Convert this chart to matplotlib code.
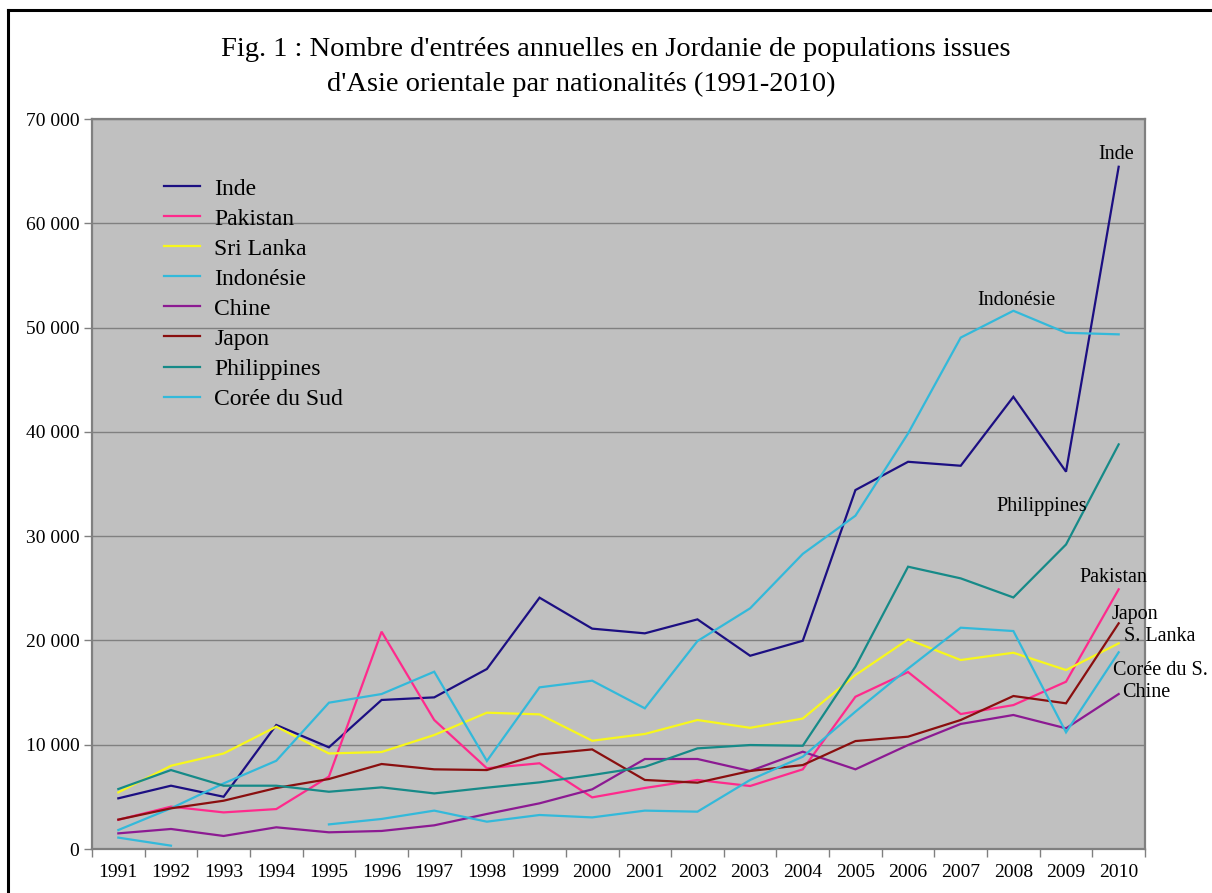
import numpy as np
import matplotlib
matplotlib.use("Agg")
import matplotlib.pyplot as plt
from matplotlib.ticker import FuncFormatter, FixedLocator
from matplotlib.lines import Line2D

years = [str(y) for y in range(1991, 2011)]

inde = [4860, 6070, 5010, 11890, 9750, 14290, 14540, 17260, 24100, 21130,
        20680, 22020, 18530, 19970, 34420, 37130, 36750, 43360, 36180, 65420]
pakistan = [2800, 4060, 3510, 3830, 6940, 20840, 12370, 7740, 8220, 4950,
            5850, 6620, 6040, 7640, 14600, 16970, 12940, 13800, 16040, 24900]
sri_lanka = [5430, 7980, 9160, 11730, 9160, 9300, 10930, 13070, 12910, 10380,
             11030, 12370, 11620, 12510, 16680, 20100, 18120, 18820, 17160, 19720]
indonesie = [1820, 3900, 6290, 8460, 14030, 14860, 17000, 8440, 15500, 16140,
             13490, 19940, 23080, 28300, 31960, 39850, 49040, 51610, 49500, 49350]
chine = [1500, 1920, 1250, 2080, 1600, 1730, 2270, 3360, 4380, 5720,
         8630, 8630, 7480, 9330, 7640, 9970, 11990, 12850, 11570, 14860]
japon = [2820, 3900, 4630, 5850, 6710, 8150, 7640, 7570, 9070, 9550,
         6620, 6360, 7480, 8050, 10350, 10770, 12370, 14670, 13970, 21640]
philippines = [5750, 7570, 6070, 6070, 5490, 5910, 5330, 5880, 6390, 7090,
               7880, 9650, 9970, 9900, 17480, 27070, 25950, 24120, 29200, 38800]
coree = [1090, 320, np.nan, np.nan, 2360, 2880, 3680, 2620, 3260, 3030,
         3680, 3580, 6620, 8850, 13170, 17300, 21220, 20900, 11190, 18860]

series_names = ["Inde", "Pakistan", "Sri Lanka", "Indonésie", "Chine",
                "Japon", "Philippines", "Corée du Sud"]
series_values = [inde, pakistan, sri_lanka, indonesie, chine, japon,
                 philippines, coree]
colors = ["#1c0f82", "#ff2a8c", "#f7f71c", "#33b9da", "#8c1a92",
          "#8a0f0f", "#168a88", "#33b9da"]

end_labels = ["Inde", "Indonésie", "Philippines", "Pakistan", "Japon",
              "S. Lanka", "Corée du S.", "Chine"]

title1 = "Fig. 1 : Nombre d'entrées annuelles en Jordanie de populations issues"
title2 = "d'Asie orientale par nationalités (1991-2010)"

plt.rcParams['font.family'] = ['Liberation Serif', 'DejaVu Serif']

W, H = 1212, 893
fig = plt.figure(figsize=(W / 100, H / 100), dpi=100)
fig.patch.set_facecolor("white")

# outer frame (left and top)
fig.add_artist(Line2D([8 / W, 8 / W], [0, 1 - 10 / H], transform=fig.transFigure,
                      color="black", lw=2.2))
fig.add_artist(Line2D([8 / W, 1], [1 - 10 / H, 1 - 10 / H], transform=fig.transFigure,
                      color="black", lw=2.2))

left, right, top, bottom = 92, 1145, 119, 849
ax = fig.add_axes([left / W, 1 - bottom / H, (right - left) / W, (bottom - top) / H])
ax.set_facecolor("#c0c0c0")

x = np.arange(len(years))
for name, vals, c in zip(series_names, series_values, colors):
    ax.plot(x, vals, color=c, lw=1.6, label=name, solid_joinstyle="miter")

ax.set_xlim(-0.5, len(years) - 0.5)
ax.set_ylim(0, 70000)
ax.set_yticks(np.arange(0, 70001, 10000))
ax.yaxis.set_major_formatter(FuncFormatter(lambda v, p: f"{int(v):,}".replace(",", " ")))
ax.grid(axis="y", color="#808080", lw=1.0)
ax.set_axisbelow(True)

ax.set_xticks(x)
ax.set_xticklabels(years)
ax.xaxis.set_minor_locator(FixedLocator(np.arange(-0.5, len(years), 1.0)))
ax.tick_params(axis="x", which="major", length=0, pad=11, labelsize=14)
ax.tick_params(axis="x", which="minor", length=6, color="#808080", width=1)
ax.tick_params(axis="y", which="major", length=6, color="#808080", width=1,
               labelsize=14, pad=3)

for s in ax.spines.values():
    s.set_color("#808080")
    s.set_linewidth(1.6)

leg = ax.legend(loc="upper left", bbox_to_anchor=(0.059, 0.932), frameon=False,
                fontsize=17, handlelength=1.55, handletextpad=0.6,
                labelspacing=0.36, borderaxespad=0)

# end-of-line labels (pixel-placed label centres converted to data units)
label_x = [18.95, 17.05, 17.54, 18.89, 19.31, 19.78, 19.80, 19.52]
label_y = [66550, 52640, 32890, 25990, 22530, 20330, 17070, 15050]
for xi, yi, txt in zip(label_x, label_y, end_labels):
    ax.text(xi, yi, txt, ha="center", va="center", fontsize=14.5, clip_on=False)

fig.text(616 / W, 1 - 50 / H, title1, ha="center", va="center", fontsize=20.5)
fig.text(581 / W, 1 - 84 / H, title2, ha="center", va="center", fontsize=20.5)

fig.savefig("out.png", dpi=100)
